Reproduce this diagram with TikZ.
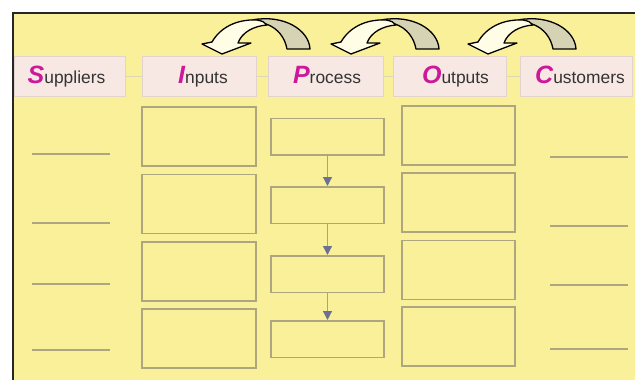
\documentclass[tikz,border=0pt]{standalone}
\usepackage{fontspec}
\setmainfont{Liberation Sans}
\usetikzlibrary{arrows.meta}

\definecolor{panel}{HTML}{FAF09A}
\definecolor{boxline}{HTML}{ADA67F}
\definecolor{hdrfill}{HTML}{F7E8E4}
\definecolor{hdrline}{HTML}{E2D3CC}
\definecolor{linkline}{HTML}{DCD8B4}
\definecolor{mag}{HTML}{CC1899}
\definecolor{olivebk}{HTML}{D6D3B4}
\definecolor{creamfr}{HTML}{FFFDE5}
\definecolor{flowline}{HTML}{A8A288}
\definecolor{flowhead}{HTML}{6B7190}
\definecolor{txt}{HTML}{333333}

% big magenta initial of each SIPOC heading
\newcommand\ini[1]{{\fontsize{25}{25}\selectfont\bfseries\itshape\color{mag}#1}}

\tikzset{
  hdr/.style={draw=hdrline, fill=hdrfill, line width=1pt, minimum height=40, inner sep=0},
  lbl/.style={anchor=base, text=txt, inner sep=0, font=\fontsize{17.4}{20}\selectfont},
  hlink/.style={draw=linkline, line width=1pt},
  bigbox/.style={draw=boxline, line width=1.5pt, minimum height=59, minimum width=114, inner sep=0},
  stepbox/.style={draw=boxline, line width=1.5pt, minimum height=36.5, minimum width=113, inner sep=0},
  outbox/.style={draw=boxline, line width=1.5pt, minimum height=59, minimum width=113, inner sep=0},
  flow/.style={draw=flowline, line width=1.2pt,
    -{Triangle[width=9pt,length=9pt,fill=flowhead,color=flowhead]}},
  blank/.style={draw=boxline, line width=1.5pt},
  % curved "feed back" arrow, origin at its tip
  backarrow/.pic={
    \filldraw[fill=olivebk, draw=black, line width=1.3pt, line join=round]
      (30,20) .. controls (62,14) and (87,30) .. (88,49) -- (65,49)
      .. controls (63,38) and (56,28) .. (44,24) -- cycle;
    \filldraw[fill=creamfr, draw=black, line width=1.3pt, line join=round]
      (-20,44) -- (-10,42) .. controls (-2,28) and (14,19) .. (35,20)
      .. controls (40,21) and (43,22) .. (45,25)
      .. controls (32,26) and (20,32) .. (16,43) -- (29,43) -- (0,54) -- cycle;
  }
}

\begin{document}
\begin{tikzpicture}[x=1pt, y=-1pt]
\useasboundingbox (0,0) rectangle (635,380);
\fill[white] (0,0) rectangle (635,380);
\fill[panel] (13,13) rectangle (635,380);
\draw[line width=1.4pt, black!85] (13,380) -- (13,13) -- (635,13);

% heading boxes
\node[hdr, minimum width=111] (hS) at (69.5,76) {};
\node[hdr, minimum width=114] (hI) at (199,76) {};
\node[hdr, minimum width=115] (hP) at (325.5,76) {};
\node[hdr, minimum width=113] (hO) at (449.5,76) {};
\node[hdr, minimum width=112] (hC) at (576,76) {};
\draw[hlink] (hS.east) -- (hI.west);
\draw[hlink] (hI.east) -- (hP.west);
\draw[hlink] (hP.east) -- (hO.west);
\draw[hlink] (hO.east) -- (hC.west);

\node[lbl] (tS) at (66.5,83) {\ini{S}uppliers};
\node[lbl] (tI) at (203,83) {\ini{I}nputs};
\node[lbl] (tP) at (327,83) {\ini{P}rocess};
\node[lbl] (tO) at (455.5,83) {\ini{O}utputs};
\node[lbl] (tC) at (580,83) {\ini{C}ustomers};

% feedback arrows over the headings
\pic at (222,0) {backarrow};
\pic at (351,0) {backarrow};
\pic at (488,0) {backarrow};

% inputs column
\node[bigbox] (in1) at (199,136.5) {};
\node[bigbox] (in2) at (199,204) {};
\node[bigbox] (in3) at (199,271.5) {};
\node[bigbox] (in4) at (199,338.5) {};

% process steps
\node[stepbox] (pr1) at (327.5,136.5) {};
\node[stepbox] (pr2) at (327.5,205) {};
\node[stepbox] (pr3) at (327.5,274) {};
\node[stepbox] (pr4) at (327.5,339) {};
\draw[flow] (pr1) -- (pr2);
\draw[flow] (pr2) -- (pr3);
\draw[flow] (pr3) -- (pr4);

% outputs column
\node[outbox] (out1) at (458.5,135.5) {};
\node[outbox] (out2) at (458.5,202.5) {};
\node[outbox] (out3) at (458.5,270) {};
\node[outbox] (out4) at (458.5,336.5) {};

% supplier blanks
\coordinate (sa1) at (32,154);  \coordinate (sb1) at (110,154);
\coordinate (sa2) at (32,223);  \coordinate (sb2) at (110,223);
\coordinate (sa3) at (32,284);  \coordinate (sb3) at (110,284);
\coordinate (sa4) at (32,350);  \coordinate (sb4) at (110,350);
\foreach \i in {1,...,4} \draw[blank] (sa\i) -- (sb\i);

% customer blanks
\coordinate (ca1) at (550,157);  \coordinate (cb1) at (628,157);
\coordinate (ca2) at (550,226);  \coordinate (cb2) at (628,226);
\coordinate (ca3) at (550,285);  \coordinate (cb3) at (628,285);
\coordinate (ca4) at (550,349);  \coordinate (cb4) at (628,349);
\foreach \i in {1,...,4} \draw[blank] (ca\i) -- (cb\i);
\end{tikzpicture}
\end{document}
